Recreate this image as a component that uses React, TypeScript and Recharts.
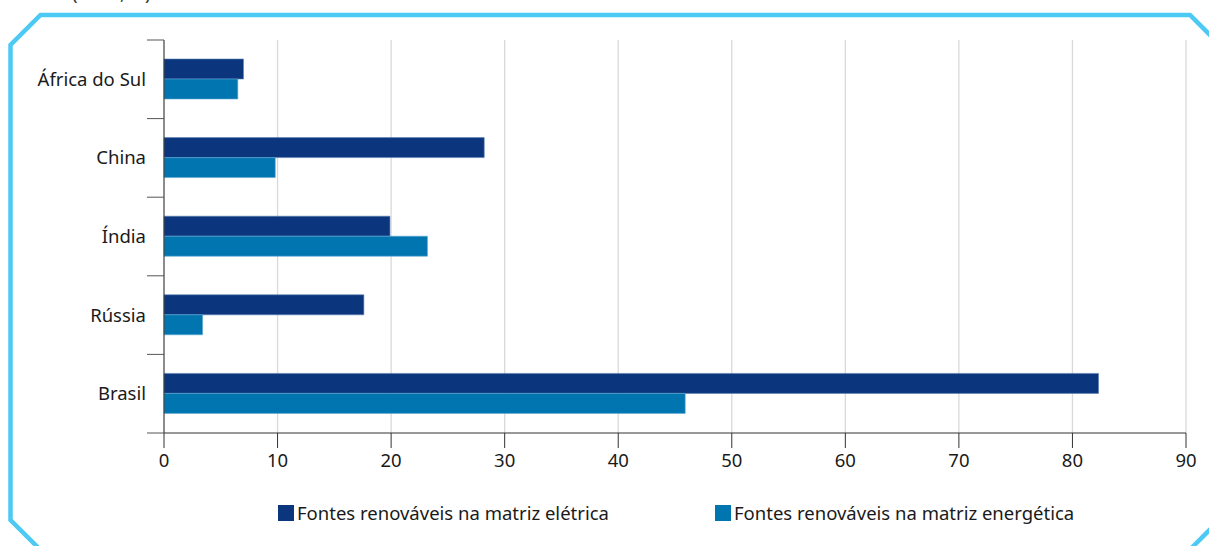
import React from 'react';
import { BarChart, Bar, XAxis, YAxis, CartesianGrid } from 'recharts';

const countries = ['África do Sul', 'China', 'Índia', 'Rússia', 'Brasil'];
const eletrica = [7.0, 28.2, 19.9, 17.6, 82.3];
const energetica = [6.5, 9.8, 23.2, 3.4, 45.9];
const xTicks = [0, 10, 20, 30, 40, 50, 60, 70, 80, 90];
const seriesNames = ['Fontes renováveis na matriz elétrica', 'Fontes renováveis na matriz energética'];
const unitLabel = '(2015, %)';

const DARK = '#0b367d';
const LIGHT = '#0075b0';
const FONT = '"Noto Sans", "Open Sans", sans-serif';
const FS = 18.5;

const data = countries.map((c, i) => ({ name: c, eletrica: eletrica[i], energetica: energetica[i] }));

const W = 1209;
const H = 546;
const TOP = 40;
const BOTTOM = 433;

const YTick = (props: any) => {
  const { x, y, payload, index } = props;
  const half = payload && payload.offset ? payload.offset : (BOTTOM - TOP) / countries.length / 2;
  return (
    <g>
      <line x1={x - 9} x2={x + 8} y1={y - half} y2={y - half} stroke="#555" strokeWidth={1} />
      {index === countries.length - 1 && (
        <line x1={x - 9} x2={x + 8} y1={y + half} y2={y + half} stroke="#555" strokeWidth={1} />
      )}
      <text x={x - 10} y={y} dy="0.35em" textAnchor="end" fill="#1a1a1a" fontSize={FS} fontFamily={FONT}>
        {payload.value}
      </text>
    </g>
  );
};

export default function App() {
  return (
    <div style={{ position: 'absolute', left: 0, top: 0, width: W, height: H, overflow: 'hidden', background: '#fff' }}>
      <svg width={W} height={H} style={{ position: 'absolute', left: 0, top: 0 }}>
        <path
          d="M 1240 65 L 1190 15 L 40.5 15 L 10.5 45 L 10.5 520 L 50 559.5"
          fill="none"
          stroke="#4ccaf3"
          strokeWidth={4.5}
          strokeLinejoin="miter"
        />
        <path d="M 1180 559.5 L 1240 499.5" fill="none" stroke="#4ccaf3" strokeWidth={4.5} />
        <text x={72} y={-0.5} fill="#333" fontSize={FS} fontFamily={FONT}>{unitLabel}</text>
      </svg>
      <div style={{ position: 'absolute', left: 0, top: 0 }}>
        <BarChart
          width={W}
          height={H}
          data={data}
          layout="vertical"
          margin={{ top: TOP, right: W - 1186, bottom: 63, left: 0 }}
          barSize={20}
          barGap={0}
        >
          <CartesianGrid horizontal={false} vertical={true} stroke="#d9d9d9" strokeWidth={1.3} />
          <XAxis
            type="number"
            domain={[0, 90]}
            ticks={xTicks}
            interval={0}
            height={50}
            axisLine={{ stroke: '#333' }}
            tickLine={{ stroke: '#333' }}
            tickSize={15}
            tickMargin={6}
            tick={{ fill: '#1a1a1a', fontSize: FS, fontFamily: FONT }}
          />
          <XAxis
            xAxisId="top"
            orientation="top"
            type="number"
            domain={[0, 90]}
            height={0}
            axisLine={{ stroke: '#d9d9d9', strokeWidth: 1.3 }}
            tick={false}
            tickLine={false}
          />
          <YAxis
            type="category"
            dataKey="name"
            width={164}
            axisLine={{ stroke: '#333' }}
            tickLine={false}
            tick={<YTick />}
            interval={0}
          />
          <Bar dataKey="eletrica" fill={DARK} stroke="#5b7fb5" strokeWidth={0.6} isAnimationActive={false} />
          <Bar dataKey="energetica" fill={LIGHT} stroke="#5ea9d3" strokeWidth={0.6} isAnimationActive={false} />
        </BarChart>
      </div>
      <div
        style={{
          position: 'absolute',
          top: 504,
          left: 278,
          fontFamily: FONT,
          fontSize: FS,
          color: '#1a1a1a',
          whiteSpace: 'nowrap',
        }}
      >
        {seriesNames.map((n, i) => (
          <div
            key={n}
            style={{ display: 'flex', alignItems: 'center', position: 'absolute', left: i === 0 ? 0 : 437, top: 0 }}
          >
            <span style={{ display: 'inline-block', width: 16, height: 16, background: i === 0 ? DARK : LIGHT, marginRight: 3 }} />
            <span style={{ lineHeight: '18px' }}>{n}</span>
          </div>
        ))}
      </div>
    </div>
  );
}
